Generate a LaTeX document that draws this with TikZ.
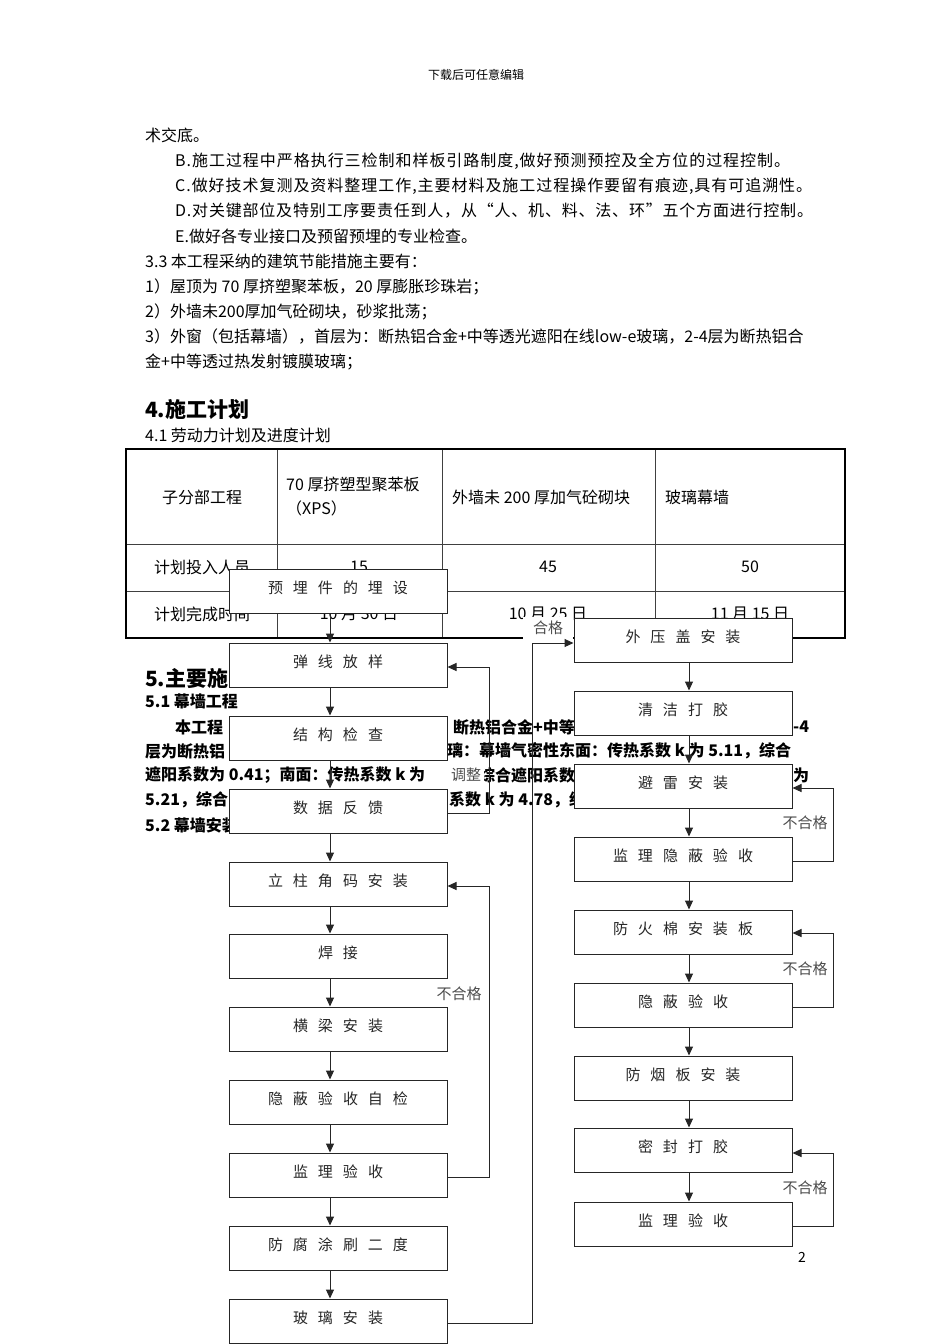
\documentclass[tikz,border=0pt]{standalone}
\usepackage{fontspec}
\newfontfamily\cjk{Noto Sans CJK SC}
\usetikzlibrary{arrows.meta, positioning}

\newcommand\bodyfont{\cjk\fontsize{16pt}{18pt}\selectfont}
\newcommand\headfont{\cjk\bfseries\fontsize{21pt}{24pt}\selectfont}
\newcommand\boxfont{\cjk\fontsize{15pt}{17pt}\selectfont\spaceskip=10pt\relax}
\newcommand\notefont{\cjk\fontsize{15pt}{17pt}\selectfont}

\begin{document}
\begin{tikzpicture}[x=1pt, y=-1pt, >={Triangle[length=9pt, width=8pt]},
    txt/.style={anchor=west, inner sep=0pt, font=\bodyfont},
    wide txt/.style={anchor=west, inner sep=0pt, font=\bodyfont\addfontfeature{LetterSpace=#1}},
    bold txt/.style={anchor=west, inner sep=0pt, font=\bodyfont\bfseries},
    cell/.style={inner sep=0pt, font=\bodyfont},
    flowbox/.style={draw=black!85, line width=1pt, fill=white, minimum width=218pt, inner xsep=2pt, inner ysep=4pt, text height=20pt, text depth=16pt, font=\boxfont, text=black!85},
    note/.style={fill=white, inner sep=1.5pt, font=\notefont, text=black!70},
    flow/.style={->, draw=black!85, line width=1pt}]
    \useasboundingbox (0,0) rectangle (950,1344);
    \fill[white] (0,0) rectangle (950,1344);

    % page text
    \node[font=\cjk\fontsize{12pt}{14pt}\selectfont] (hdr) at ({476},{75}) {下载后可任意编辑};
    \node[txt] (l0) at ({145},{135}) {术交底。};
    \node[wide txt=6] (l1) at ({175},{161}) {B.施工过程中严格执行三检制和样板引路制度,做好预测预控及全方位的过程控制。};
    \node[wide txt=6] (l2) at ({175},{186}) {C.做好技术复测及资料整理工作,主要材料及施工过程操作要留有痕迹,具有可追溯性。};
    \node[wide txt=5] (l3) at ({175},{211}) {D.对关键部位及特别工序要责任到人，从“人、机、料、法、环”五个方面进行控制。};
    \node[txt] (l4) at ({175},{236}) {E.做好各专业接口及预留预埋的专业检查。};
    \node[txt] (l5) at ({145},{261}) {3.3 本工程采纳的建筑节能措施主要有：};
    \node[txt] (l6) at ({145},{287}) {1）屋顶为 70 厚挤塑聚苯板，20 厚膨胀珍珠岩；};
    \node[txt] (l7) at ({145},{312}) {2）外墙未200厚加气砼砌块，砂浆批荡；};
    \node[txt] (l8) at ({145},{337}) {3）外窗（包括幕墙），首层为：断热铝合金+中等透光遮阳在线low-e玻璃，2-4层为断热铝合};
    \node[txt] (l9) at ({145},{362}) {金+中等透过热发射镀膜玻璃；};

    \node[anchor=west, inner sep=0pt, font=\headfont] (sec4) at ({145},{410}) {4.施工计划};
    \node[txt] (sec41) at ({145},{435}) {4.1 劳动力计划及进度计划};

    % table
    \draw[black!75, line width=0.8pt] (126,544) -- (845,544) (126,591) -- (845,591)
        (277,449) -- (277,638) (442,449) -- (442,638) (655,449) -- (655,638);
    \draw[line width=1.8pt] (126,449) rectangle (845,638);
    \node[cell] (c11) at ({202},{497}) {子分部工程};
    \node[cell, anchor=west] (c12a) at ({286},{484}) {70 厚挤塑型聚苯板};
    \node[cell, anchor=west] (c12b) at ({286},{508}) {（XPS）};
    \node[cell, anchor=west] (c13) at ({452},{497}) {外墙未 200 厚加气砼砌块};
    \node[cell, anchor=west] (c14) at ({665},{497}) {玻璃幕墙};
    \node[cell] (c21) at ({202},{567}) {计划投入人员};
    \node[cell] (c22) at ({359},{567}) {15};
    \node[cell] (c23) at ({548},{567}) {45};
    \node[cell] (c24) at ({750},{567}) {50};
    \node[cell] (c31) at ({202},{614}) {计划完成时间};
    \node[cell] (c32) at ({359},{614}) {10 月 30 日};
    \node[cell] (c33) at ({548},{614}) {10 月 25 日};
    \node[cell] (c34) at ({750},{614}) {11 月 15 日};

    \node[anchor=west, inner sep=0pt, font=\headfont] (sec5) at ({145},{678}) {5.主要施};
    \node[bold txt] (sec51) at ({145},{701}) {5.1 幕墙工程};
    \node[bold txt] (p1a) at ({175},{727}) {本工程};
    \node[bold txt] (p1b) at ({453},{727}) {断热铝合金+中等};
    \node[bold txt] (p1c) at ({793},{727}) {-4};
    \node[bold txt] (p2a) at ({145},{751}) {层为断热铝};
    \node[bold txt] (p2b) at ({447},{751}) {璃：幕墙气密性东面：传热系数 k 为 5.11，综合};
    \node[bold txt] (p3a) at ({145},{775}) {遮阳系数为 0.41；南面：传热系数 k 为};
    \node[bold txt] (p3b) at ({479},{775}) {综合遮阳系数};
    \node[bold txt] (p3c) at ({793},{775}) {为};
    \node[bold txt] (p4a) at ({145},{800}) {5.21，综合};
    \node[bold txt] (p4b) at ({449},{800}) {系数 k 为 4.78，综};
    \node[bold txt] (sec52) at ({145},{825}) {5.2 幕墙安装};
    \node[font=\cjk\fontsize{14pt}{16pt}\selectfont] (pgno) at ({802},{1257}) {2};

    \node[note, inner xsep=10pt, inner ysep=4pt] (hg) at ({548},{628}) {合格};

    % left flow
    \node[flowbox] (yms) at ({338},{591}) {预 埋 件 的 埋 设};
    \node[flowbox] (txfy) at ({338},{665}) {弹 线 放 样};
    \node[flowbox] (jgjc) at ({338},{738}) {结 构 检 查};
    \node[flowbox] (sjfk) at ({338},{811}) {数 据 反 馈};
    \node[flowbox] (lzjm) at ({338},{884}) {立 柱 角 码 安 装};
    \node[flowbox] (hj) at ({338},{956}) {焊 接};
    \node[flowbox] (hlaz) at ({338},{1029}) {横 梁 安 装};
    \node[flowbox] (ybzj) at ({338},{1102}) {隐 蔽 验 收 自 检};
    \node[flowbox] (jlys) at ({338},{1175}) {监 理 验 收};
    \node[flowbox] (ffts) at ({338},{1248}) {防 腐 涂 刷 二 度};
    \node[flowbox] (blaz) at ({338},{1321}) {玻 璃 安 装};

    % right flow
    \node[flowbox] (wygaz) at ({683},{640}) {外 压 盖 安 装};
    \node[flowbox] (qjdj) at ({683},{713}) {清 洁 打 胶};
    \node[flowbox] (blei) at ({683},{786}) {避 雷 安 装};
    \node[flowbox] (jlyb) at ({683},{859}) {监 理 隐 蔽 验 收};
    \node[flowbox] (fhm) at ({683},{932}) {防 火 棉 安 装 板};
    \node[flowbox] (ybys) at ({683},{1005}) {隐 蔽 验 收};
    \node[flowbox] (fyb) at ({683},{1078}) {防 烟 板 安 装};
    \node[flowbox] (mfdj) at ({683},{1150}) {密 封 打 胶};
    \node[flowbox] (jlys2) at ({683},{1224}) {监 理 验 收};

    \foreach \a/\b in {yms/txfy, txfy/jgjc, jgjc/sjfk, sjfk/lzjm, lzjm/hj, hj/hlaz, hlaz/ybzj, ybzj/jlys, jlys/ffts, ffts/blaz}
        \draw[flow] ([xshift=-8pt]\a.south) -- ([xshift=-8pt]\b.north);
    \foreach \a/\b in {wygaz/qjdj, qjdj/blei, blei/jlyb, jlyb/fhm, fhm/ybys, ybys/fyb, fyb/mfdj, mfdj/jlys2}
        \draw[flow] ([xshift=6pt]\a.south) -- ([xshift=6pt]\b.north);

    % loops
    \draw[flow] ([yshift=-2pt]sjfk.east) -- ++(42,0) |- ([yshift=-2pt]txfy.east);
    \draw[flow] ([yshift=-2pt]jlys.east) -- ++(42,0) |- ([yshift=-2pt]lzjm.east);
    \draw[flow] ([yshift=-2pt]blaz.east) -- ++(85,0) |- ([yshift=-3pt]wygaz.west);
    \draw[flow] ([yshift=-2pt]jlyb.east) -- ++(41,0) |- ([yshift=-2pt]blei.east);
    \draw[flow] ([yshift=-2pt]ybys.east) -- ++(41,0) |- ([yshift=-1pt]fhm.east);
    \draw[flow] ([yshift=-2pt]jlys2.east) -- ++(41,0) |- ([yshift=-3pt]mfdj.east);

    \node[note, inner xsep=3pt] (tz) at ({466},{775}) {调整};
    \node[note] (bhg1) at ({459},{994}) {不合格};
    \node[note, fill=none] (bhg2) at ({805},{823}) {不合格};
    \node[note, fill=none] (bhg3) at ({805},{969}) {不合格};
    \node[note, fill=none] (bhg4) at ({805},{1188}) {不合格};
\end{tikzpicture}
\end{document}
